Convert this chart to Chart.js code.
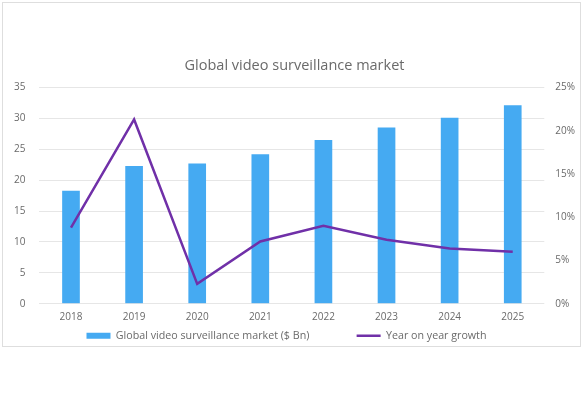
<!DOCTYPE html>
<html lang="en">
<head>
  <meta charset="UTF-8">
  <title>Global video surveillance market</title>
  <script src="https://cdn.jsdelivr.net/npm/chart.js"></script>
  <style>
    body {
      margin: 0;
      padding: 0;
      background: #fff;
      font-family: "Open Sans", Arial, sans-serif;
    }
    .frame {
      position: absolute;
      left: 2px;
      top: 2px;
      width: 577px;
      height: 343px;
      border: 1px solid #dedede;
    }
    #chart {
      position: absolute;
      left: 0;
      top: 0;
    }
  </style>
</head>
<body>
  <div class="frame"></div>
  <canvas id="chart" width="583" height="351"></canvas>

  <script>
    const years = ["2018", "2019", "2020", "2021", "2022", "2023", "2024", "2025"];
    const marketSize = [18.3, 22.3, 22.7, 24.2, 26.5, 28.5, 30.1, 32.1];
    const yoyGrowth = [8.8, 21.3, 2.3, 7.2, 9.0, 7.4, 6.4, 6.0];

    const textGrey = "#6a6a6a";
    const gridGrey = "#e6e6e6";
    const tickFont = { size: 10, family: "Open Sans" };

    new Chart(document.getElementById("chart"), {
      data: {
        labels: years,
        datasets: [
          {
            type: "line",
            label: "Year on year growth",
            data: yoyGrowth,
            yAxisID: "y2",
            borderColor: "#7030a8",
            backgroundColor: "#7030a8",
            borderWidth: 2.5,
            pointRadius: 0,
            tension: 0,
            pointStyle: "line",
            order: 0
          },
          {
            type: "bar",
            label: "Global video surveillance market ($ Bn)",
            data: marketSize,
            yAxisID: "y",
            backgroundColor: "#45aaf2",
            barPercentage: 0.56,
            categoryPercentage: 0.5,
            pointStyle: "rect",
            order: 1
          }
        ]
      },
      options: {
        responsive: false,
        animation: false,
        layout: { padding: { top: 0, left: 11, right: 5, bottom: 0 } },
        plugins: {
          title: {
            display: true,
            text: "Global video surveillance market",
            color: textGrey,
            font: { size: 14.5, family: "Open Sans", weight: "normal" },
            padding: { top: 57, bottom: 13 }
          },
          legend: {
            position: "bottom",
            reverse: true,
            labels: {
              color: textGrey,
              font: { size: 10.7, family: "Open Sans" },
              usePointStyle: true,
              pointStyleWidth: 24,
              boxHeight: 6,
              padding: 4.5,
              // wider gap between the two entries, legend sits a bit left of centre
              generateLabels: chart => {
                const items = Chart.defaults.plugins.legend.labels.generateLabels(chart);
                items.forEach(it => {
                  if (it.datasetIndex === 1) it.text = it.text + "\u2003\u2003\u2003\u2003";
                  else it.text = it.text + "\u2003\u2002";
                });
                return items;
              }
            }
          },
          tooltip: { enabled: false }
        },
        scales: {
          x: {
            grid: { display: true, color: "transparent", tickColor: "transparent", drawTicks: true, tickLength: 4 },
            border: { display: false },
            ticks: { color: textGrey, font: tickFont, padding: 3 }
          },
          y: {
            position: "left",
            min: 0,
            max: 35,
            ticks: { stepSize: 5, color: textGrey, font: tickFont, padding: 3 },
            grid: { color: gridGrey, drawTicks: true, tickLength: 11, tickColor: "transparent" },
            border: { display: false }
          },
          y2: {
            position: "right",
            min: 0,
            max: 25,
            ticks: {
              stepSize: 5,
              color: textGrey,
              font: tickFont,
              padding: 3,
              callback: v => v + "%"
            },
            grid: { color: "transparent", drawOnChartArea: false, drawTicks: true, tickLength: 8, tickColor: "transparent" },
            border: { display: false }
          }
        }
      }
    });
  </script>
</body>
</html>
